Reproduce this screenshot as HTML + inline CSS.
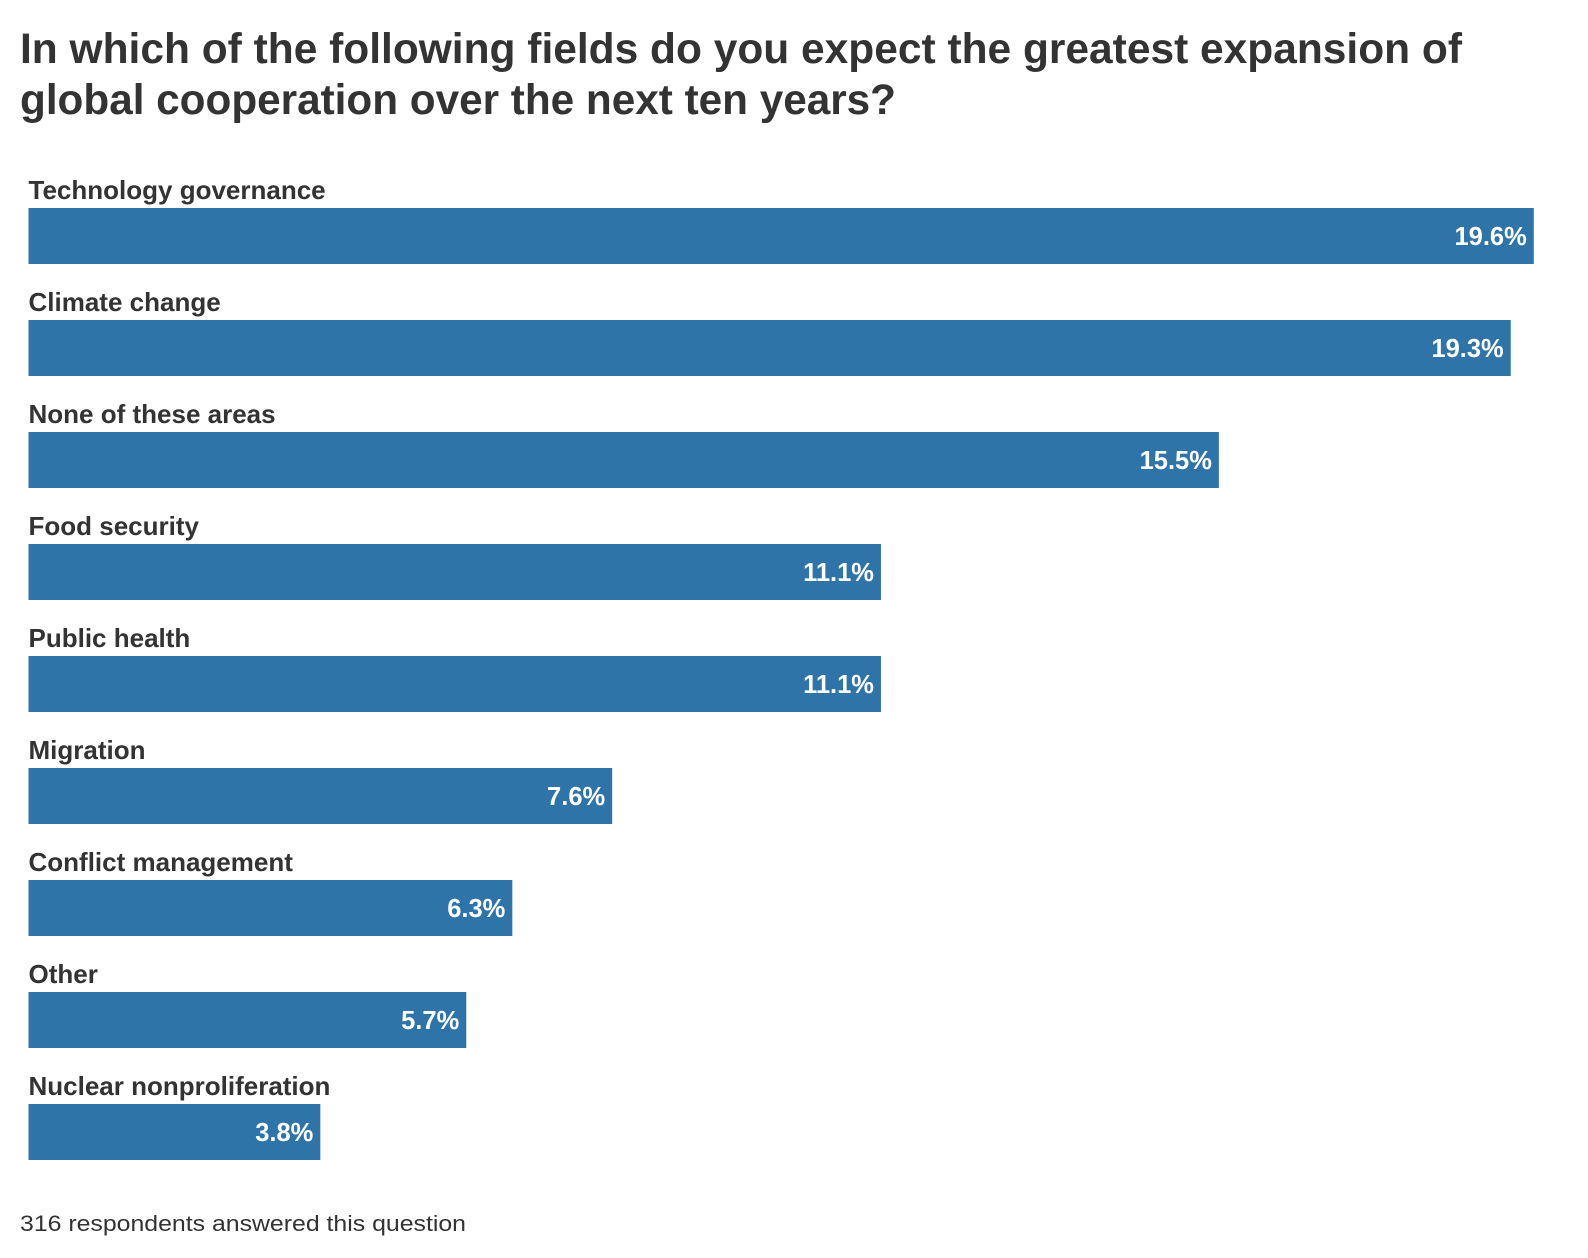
<!DOCTYPE html>
<html><head><meta charset="utf-8"><style>
html,body{margin:0;padding:0;background:#fff;}
svg{display:block;font-family:"Liberation Sans",sans-serif;}
</style></head><body>
<svg id="chart" width="1588" height="1258" viewBox="0 0 1588 1258">
<text x="20" y="63" font-size="42.5" font-weight="bold" fill="#333" textLength="1442" lengthAdjust="spacingAndGlyphs">In which of the following fields do you expect the greatest expansion of</text>
<text x="20" y="114" font-size="42.5" font-weight="bold" fill="#333" textLength="876" lengthAdjust="spacingAndGlyphs">global cooperation over the next ten years?</text>
<g id="bars"></g>
<text x="20" y="1231" font-size="22.5" fill="#333" textLength="446" lengthAdjust="spacingAndGlyphs">316 respondents answered this question</text>
</svg>
<script>
const categories = ["Technology governance","Climate change","None of these areas","Food security","Public health","Migration","Conflict management","Other","Nuclear nonproliferation"];
const values = [19.6,19.3,15.5,11.1,11.1,7.6,6.3,5.7,3.8];
const valueLabels = ["19.6%","19.3%","15.5%","11.1%","11.1%","7.6%","6.3%","5.7%","3.8%"];

const NS = "http://www.w3.org/2000/svg";
const x0 = 28.5, pxPerPct = 76.8;
const xScale = v => x0 + v * pxPerPct;
const rowTop = i => 208 + i * 112;
const barH = 56;
const g = document.getElementById("bars");
categories.forEach((c, i) => {
  const y = rowTop(i);
  const lab = document.createElementNS(NS, "text");
  lab.setAttribute("x", x0);
  lab.setAttribute("y", y - 9);
  lab.setAttribute("font-size", "26");
  lab.setAttribute("font-weight", "bold");
  lab.setAttribute("fill", "#333");
  lab.textContent = c;
  
  
  g.appendChild(lab);
  const r = document.createElementNS(NS, "rect");
  r.setAttribute("x", x0);
  r.setAttribute("y", y);
  r.setAttribute("width", xScale(values[i]) - x0);
  r.setAttribute("height", barH);
  r.setAttribute("fill", "#2f74a8");
  
  
  g.appendChild(r);
  const v = document.createElementNS(NS, "text");
  v.setAttribute("x", xScale(values[i]) - 7);
  v.setAttribute("y", y + 37);
  v.setAttribute("text-anchor", "end");
  v.setAttribute("font-size", "25.5");
  v.setAttribute("font-weight", "bold");
  v.setAttribute("fill", "#fff");
  v.textContent = valueLabels[i];
  
  
  g.appendChild(v);
});
</script>
</body></html>
